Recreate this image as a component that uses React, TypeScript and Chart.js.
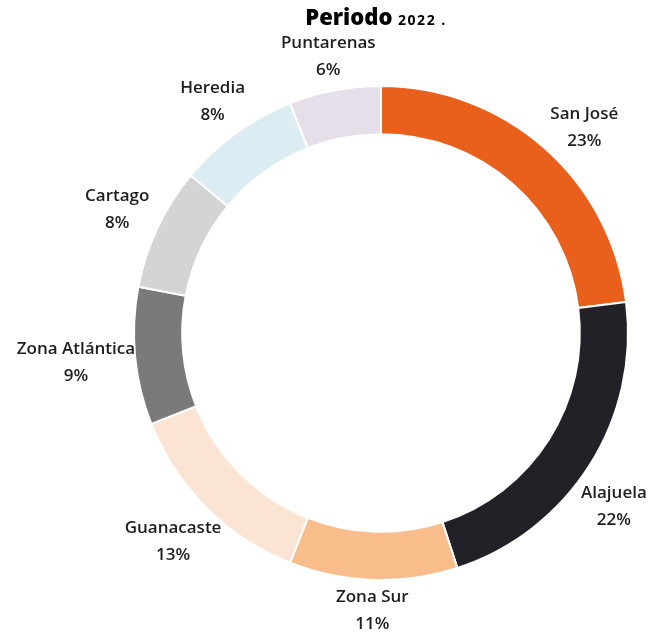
import React, { useEffect, useRef } from "react";
import { Chart, registerables } from "chart.js";

Chart.register(...registerables);

const categories = ["San José", "Alajuela", "Zona Sur", "Guanacaste", "Zona Atlántica", "Cartago", "Heredia", "Puntarenas"];
const shares = [23, 22, 11, 13, 9, 8, 8, 6];
const colors = ["#E8601C", "#222128", "#F9BD8C", "#FCE4D4", "#7A7A7A", "#D4D4D4", "#DBEDF3", "#E6DFEA"];
const titleMain = "Periodo";
const titleYear = "2022 .";

const FONT = "'Open Sans', sans-serif";

const labelPlugin = {
  id: "outerLabels",
  afterDatasetsDraw(chart: any) {
    const ctx = chart.ctx;
    const meta = chart.getDatasetMeta(0);
    const W = chart.width;
    ctx.save();
    ctx.fillStyle = "#1e1e1e";
    ctx.textAlign = "center";
    ctx.textBaseline = "middle";
    ctx.font = `600 17px ${FONT}`;
    meta.data.forEach((arc: any, i: number) => {
      const mid = (arc.startAngle + arc.endAngle) / 2;
      const right = Math.max(0, Math.cos(mid));
      const a = mid + (5 * Math.PI / 180) * right;
      const h = Math.abs(Math.cos(a));
      const w = ctx.measureText(categories[i]).width;
      const r = arc.outerRadius + 30 + 0.25 * h * w;
      let x = arc.x + Math.cos(a) * r;
      const y = arc.y + Math.sin(a) * r;
      x = Math.min(Math.max(x, w / 2 + 2), W - w / 2 - 1);
      ctx.fillText(categories[i], x, y - 13);
      ctx.fillText(shares[i] + "%", x, y + 14);
    });
    // title
    ctx.textAlign = "left";
    ctx.textBaseline = "alphabetic";
    ctx.fillStyle = "#000";
    ctx.font = `800 22px ${FONT}`;
    const w1 = ctx.measureText(titleMain + " ").width;
    ctx.font = `700 14px ${FONT}`;
    (ctx as any).letterSpacing = "1.5px";
    const w2 = ctx.measureText(titleYear).width;
    (ctx as any).letterSpacing = "0px";
    const startX = 376 - (w1 + w2) / 2;
    ctx.font = `800 22px ${FONT}`;
    ctx.fillText(titleMain + " ", startX, 25);
    ctx.font = `700 14px ${FONT}`;
    (ctx as any).letterSpacing = "1.5px";
    ctx.fillText(titleYear, startX + w1, 25);
    ctx.restore();
  },
};

export default function App() {
  const ref = useRef<HTMLCanvasElement | null>(null);
  useEffect(() => {
    if (!ref.current) return;
    const chart = new Chart(ref.current, {
      type: "doughnut",
      data: {
        labels: categories,
        datasets: [
          {
            data: shares,
            backgroundColor: colors,
            borderColor: "#ffffff",
            borderWidth: 2,
          },
        ],
      },
      options: {
        animation: false,
        responsive: false,
        cutout: "80.5%",
        layout: { padding: { left: 133, right: 24, top: 85, bottom: 61 } },
        plugins: { legend: { display: false }, tooltip: { enabled: false }, title: { display: false } },
      },
      plugins: [labelPlugin],
    });
    return () => chart.destroy();
  }, []);
  return (
    <div style={{ position: "fixed", left: 0, top: 0, width: 653, height: 642, background: "#fff" }}>
      <canvas ref={ref} width={653} height={642} style={{ width: 653, height: 642 }} />
    </div>
  );
}
